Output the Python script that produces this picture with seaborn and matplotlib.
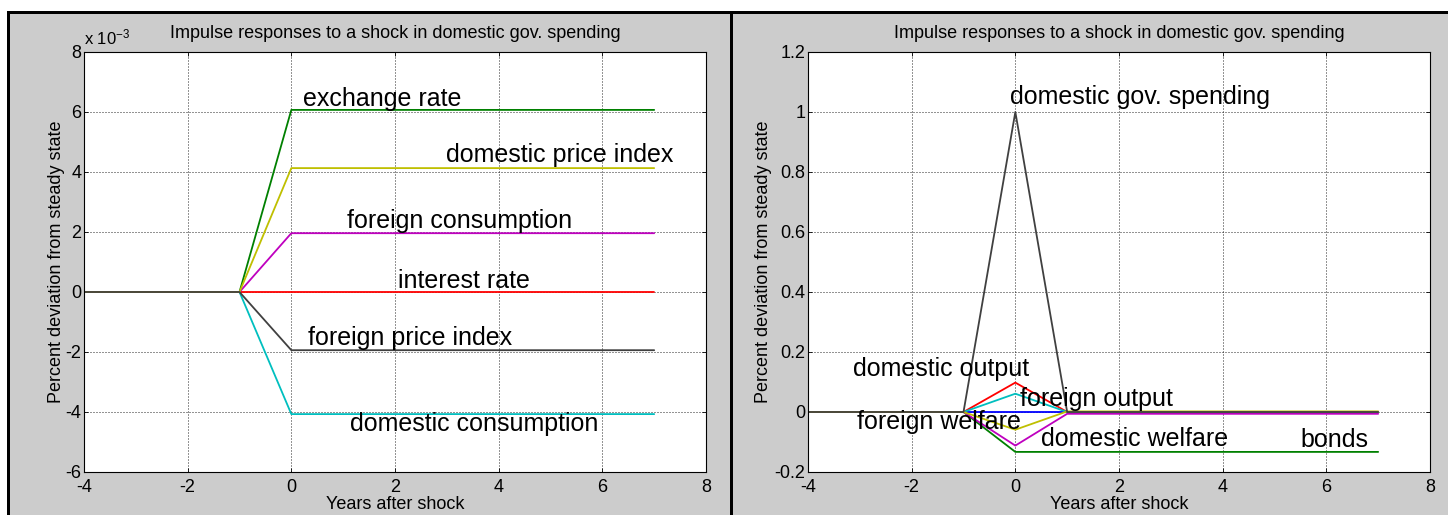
import matplotlib
matplotlib.use("Agg")
import matplotlib.pyplot as plt
from matplotlib.patches import Rectangle
from matplotlib.ticker import FuncFormatter, MultipleLocator
import numpy as np
import pandas as pd
import seaborn as sns

# ---------------------------------------------------------------- data
years = [-4, -3, -2, -1, 0, 1, 2, 3, 4, 5, 6, 7]

# prices, rates and consumption (raw units, axis shown in 1e-3)
exchange_rate        = [0, 0, 0, 0, 6.07e-3, 6.07e-3, 6.07e-3, 6.07e-3, 6.07e-3, 6.07e-3, 6.07e-3, 6.07e-3]
interest_rate        = [0, 0, 0, 0, 0, 0, 0, 0, 0, 0, 0, 0]
domestic_consumption = [0, 0, 0, 0, -4.07e-3, -4.07e-3, -4.07e-3, -4.07e-3, -4.07e-3, -4.07e-3, -4.07e-3, -4.07e-3]
foreign_consumption  = [0, 0, 0, 0, 1.96e-3, 1.96e-3, 1.96e-3, 1.96e-3, 1.96e-3, 1.96e-3, 1.96e-3, 1.96e-3]
domestic_price_index = [0, 0, 0, 0, 4.13e-3, 4.13e-3, 4.13e-3, 4.13e-3, 4.13e-3, 4.13e-3, 4.13e-3, 4.13e-3]
foreign_price_index  = [0, 0, 0, 0, -1.94e-3, -1.94e-3, -1.94e-3, -1.94e-3, -1.94e-3, -1.94e-3, -1.94e-3, -1.94e-3]

# output, welfare, bonds and the spending shock itself
unlabelled_response  = [0, 0, 0, 0, 0, 0, 0, 0, 0, 0, 0, 0]
bonds                = [0, 0, 0, 0, -0.133, -0.133, -0.133, -0.133, -0.133, -0.133, -0.133, -0.133]
domestic_output      = [0, 0, 0, 0, 0.098, 0, 0, 0, 0, 0, 0, 0]
foreign_output       = [0, 0, 0, 0, 0.061, 0, 0, 0, 0, 0, 0, 0]
domestic_welfare     = [0, 0, 0, 0, -0.112, -0.006, -0.006, -0.006, -0.006, -0.006, -0.006, -0.006]
foreign_welfare      = [0, 0, 0, 0, -0.059, 0.002, 0.002, 0.002, 0.002, 0.002, 0.002, 0.002]
gov_spending         = [0, 0, 0, 0, 1.0, 0, 0, 0, 0, 0, 0, 0]

title_text = "Impulse responses to a shock in domestic gov. spending"
x_label = "Years after shock"
y_label = "Percent deviation from steady state"

# classic MATLAB colour order
C_BLUE, C_GREEN, C_RED = "#0000ff", "#008000", "#ff0000"
C_CYAN, C_MAG, C_YEL, C_GRAY = "#00bfbf", "#bf00bf", "#bfbf00", "#404040"

left_series = [
    ("exchange rate", exchange_rate, C_GREEN),
    ("interest rate", interest_rate, C_RED),
    ("domestic consumption", domestic_consumption, C_CYAN),
    ("foreign consumption", foreign_consumption, C_MAG),
    ("domestic price index", domestic_price_index, C_YEL),
    ("foreign price index", foreign_price_index, C_GRAY),
]
right_series = [
    ("unlabelled", unlabelled_response, C_BLUE),
    ("bonds", bonds, C_GREEN),
    ("domestic output", domestic_output, C_RED),
    ("foreign output", foreign_output, C_CYAN),
    ("domestic welfare", domestic_welfare, C_MAG),
    ("foreign welfare", foreign_welfare, C_YEL),
    ("domestic gov. spending", gov_spending, C_GRAY),
]


def long_frame(series):
    rows = []
    for name, vals, _ in series:
        for x, v in zip(years, vals):
            rows.append({"year": x, "value": v, "series": name})
    return pd.DataFrame(rows)


# ---------------------------------------------------------------- style
sns.set_style("white")
plt.rcParams["font.family"] = ["Liberation Sans", "DejaVu Sans"]
plt.rcParams["axes.unicode_minus"] = False
plt.rcParams["mathtext.default"] = "regular"
for key in ("text.color", "axes.labelcolor", "xtick.color", "ytick.color"):
    plt.rcParams[key] = "black"

W, H = 1448, 515
fig = plt.figure(figsize=(W / 100, H / 100), dpi=100, facecolor="white")

# window frame: grey panel with black separators
fig.add_artist(Rectangle((10 / W, 0), 1, (H - 14) / H, transform=fig.transFigure,
                         facecolor="#cccccc", edgecolor="none", zorder=-10))
fig.add_artist(Rectangle((7 / W, (H - 14) / H), 1, 3 / H, transform=fig.transFigure,
                         facecolor="black", edgecolor="none", zorder=-9))
fig.add_artist(Rectangle((7 / W, 0), 3 / W, (H - 11) / H, transform=fig.transFigure,
                         facecolor="black", edgecolor="none", zorder=-9))
fig.add_artist(Rectangle((730 / W, 0), 3 / W, (H - 11) / H, transform=fig.transFigure,
                         facecolor="black", edgecolor="none", zorder=-9))

ax_l = fig.add_axes([84 / W, 1 - 472 / H, 622 / W, 420 / H])
ax_r = fig.add_axes([808 / W, 1 - 472 / H, 622 / W, 420 / H])

SMALL = 13
BIG = 18


def draw_panel(ax, series, ylim, ystep, scale, ylabel_x):
    df = long_frame(series)
    order = [s[0] for s in series]
    pal = {s[0]: s[2] for s in series}
    sns.lineplot(data=df, x="year", y="value", hue="series", hue_order=order,
                 palette=pal, estimator=None, sort=False, legend=False,
                 linewidth=1.3, ax=ax)
    ax.set_facecolor("white")
    ax.set_xlim(-4, 8)
    ax.set_ylim(*ylim)
    ax.xaxis.set_major_locator(MultipleLocator(2))
    ax.yaxis.set_major_locator(MultipleLocator(ystep))
    ax.xaxis.set_major_formatter(FuncFormatter(lambda v, p: f"{round(v, 6) + 0:g}"))
    ax.yaxis.set_major_formatter(FuncFormatter(lambda v, p: f"{round(v * scale, 6) + 0:g}"))
    ax.grid(True, color="black", linestyle=(0, (1.2, 2.4)), linewidth=0.6)
    ax.set_axisbelow(True)
    for sp in ax.spines.values():
        sp.set_color("black")
        sp.set_linewidth(0.8)
        sp.set_visible(True)
    ax.tick_params(axis="both", direction="in", length=3, width=0.6,
                   labelsize=SMALL, top=True, right=True, bottom=True, left=True)
    ax.tick_params(axis="x", pad=5)
    ax.tick_params(axis="y", pad=2)
    ax.set_xlabel(x_label, fontsize=SMALL)
    ax.set_ylabel(y_label, fontsize=SMALL)
    ax.xaxis.set_label_coords(0.5, -0.057)
    ax.yaxis.set_label_coords(ylabel_x, 0.5)
    ax.xaxis.label.set_va("top")
    ax.text(0.5, 1.033, title_text, transform=ax.transAxes, ha="center",
            va="baseline", fontsize=SMALL)


draw_panel(ax_l, left_series, (-6e-3, 8e-3), 2e-3, 1e3, -0.030)
draw_panel(ax_r, right_series, (-0.2, 1.2), 0.2, 1, -0.058)

ax_l.text(0.0, 1.01, "x 10$^{-3}$", transform=ax_l.transAxes, ha="left",
          va="bottom", fontsize=SMALL - 1)

left_labels = [
    ("exchange rate", 0.225, 6.43e-3),
    ("domestic price index", 2.98, 4.57e-3),
    ("foreign consumption", 1.07, 2.37e-3),
    ("interest rate", 2.06, 0.37e-3),
    ("foreign price index", 0.32, -1.53e-3),
    ("domestic consumption", 1.13, -4.40e-3),
]
right_labels = [
    ("domestic gov. spending", -0.10, 1.05),
    ("domestic output", -3.13, 0.143),
    ("foreign output", 0.09, 0.043),
    ("foreign welfare", -3.05, -0.033),
    ("domestic welfare", 0.495, -0.090),
    ("bonds", 5.51, -0.093),
]
for txt, x, y in left_labels:
    ax_l.text(x, y, txt, fontsize=BIG, ha="left", va="center")
for txt, x, y in right_labels:
    ax_r.text(x, y, txt, fontsize=BIG, ha="left", va="center")

fig.savefig("out.png", dpi=100, facecolor="white")
